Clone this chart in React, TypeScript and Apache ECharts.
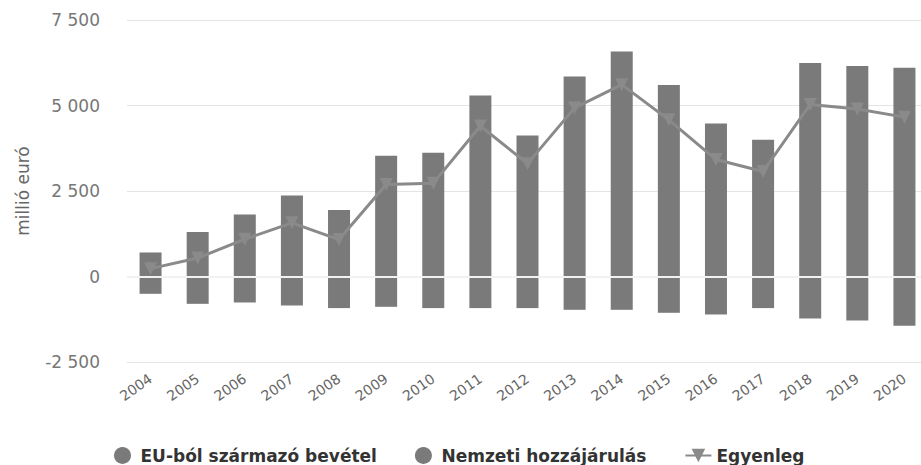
import React, { useEffect, useRef } from "react";
import * as echarts from "echarts";

const years = ["2004","2005","2006","2007","2008","2009","2010","2011","2012","2013","2014","2015","2016","2017","2018","2019","2020"];
const euIncome = [702, 1298, 1813, 2368, 1941, 3529, 3617, 5292, 4123, 5848, 6579, 5596, 4474, 3997, 6240, 6152, 6102];
const nationalContribution = [-506, -799, -760, -848, -924, -886, -924, -924, -924, -974, -974, -1061, -1111, -924, -1228, -1287, -1442];
const balance = [230, 540, 1090, 1570, 1080, 2690, 2730, 4400, 3300, 4930, 5610, 4580, 3420, 3070, 5030, 4900, 4660];
const yTicks = [-2500, 0, 2500, 5000, 7500];
const seriesNames = ["EU-ból származó bevétel", "Nemzeti hozzájárulás", "Egyenleg"];

const fmt = (v: number) => {
  const s = Math.abs(v).toString().replace(/\B(?=(\d{3})+(?!\d))/g, " ");
  return (v < 0 ? "-" : "") + s;
};

export default function App() {
  const ref = useRef<HTMLDivElement>(null);
  useEffect(() => {
    if (!ref.current) return;
    const chart = echarts.init(ref.current, undefined, { renderer: "svg" });
    const barColor = "#7a7a7a";
    const lineColor = "#8a8a8a";
    chart.setOption({
      animation: false,
      textStyle: { fontFamily: "DejaVu Sans" },
      grid: { left: 127, right: 12, top: 20, bottom: 103 },
      legend: {
        left: 114,
        top: 447,
        padding: 0,
        itemWidth: 26,
        itemHeight: 17,
        itemGap: 38,
        textStyle: { fontSize: 17, fontWeight: "bold", color: "#333", fontFamily: "DejaVu Sans" },
        data: [
          { name: seriesNames[0], icon: "circle" },
          { name: seriesNames[1], icon: "circle" },
          { name: seriesNames[2] },
        ],
      },
      xAxis: {
        type: "category",
        data: years,
        axisLine: { show: false },
        axisTick: { show: false },
        axisLabel: { rotate: 35, fontSize: 14, color: "#666", margin: 15, interval: 0 },
      },
      yAxis: {
        type: "value",
        min: yTicks[0],
        max: yTicks[yTicks.length - 1],
        interval: 2500,
        name: "millió euró",
        nameLocation: "middle",
        nameGap: 96,
        nameTextStyle: { fontSize: 17, color: "#666" },
        axisLabel: { fontSize: 17, color: "#777", margin: 27, formatter: (v: number) => fmt(v) },
        splitLine: { lineStyle: { color: "#e4e4e4", width: 1 } },
      },
      series: [
        {
          name: seriesNames[0],
          type: "bar",
          stack: "s",
          data: euIncome,
          barWidth: 22,
          itemStyle: { color: barColor },
        },
        {
          name: seriesNames[1],
          type: "bar",
          stack: "s",
          data: nationalContribution,
          barWidth: 22,
          itemStyle: { color: barColor },
          markLine: {
            silent: true,
            symbol: "none",
            label: { show: false },
            lineStyle: { color: "#f2f2f2", width: 2, type: "solid" },
            data: [{ yAxis: 0 }],
          },
        },
        {
          name: seriesNames[2],
          type: "line",
          data: balance,
          symbol: "triangle",
          symbolRotate: 180,
          symbolSize: 13,
          z: 5,
          lineStyle: { color: lineColor, width: 3 },
          itemStyle: { color: lineColor },
        },
      ],
    });
    return () => chart.dispose();
  }, []);
  return (
    <div style={{ position: "fixed", left: 0, top: 0, width: 921, height: 465, overflow: "hidden", background: "#fff" }}>
      <div ref={ref} style={{ width: 940, height: 465 }} />
    </div>
  );
}
